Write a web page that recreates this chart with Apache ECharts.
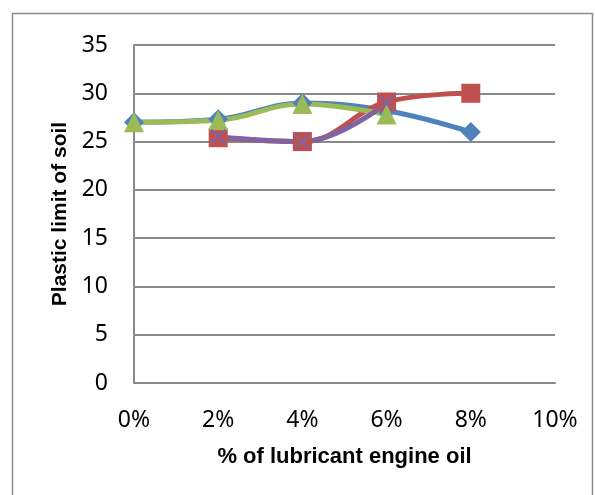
<!DOCTYPE html>
<html>
<head>
<meta charset="utf-8">
<script src="https://cdn.jsdelivr.net/npm/echarts@6/dist/echarts.min.js"></script>
<style>
  html, body { margin: 0; padding: 0; background: #fff; }
  #chart { width: 595px; height: 495px; }
</style>
</head>
<body>
<div id="chart"></div>
<script>
// Oil content (fraction) for each measurement
var oilContent = [0, 0.02, 0.04, 0.06, 0.08];

// Plastic limit readings per series (null = no reading)
var seriesBlue   = [27, 27.3, 29, 28.2, 26];
var seriesRed    = [null, 25.4, 25, 29.1, 30];
var seriesGreen  = [27, 27.2, 28.9, 27.8, null];
var seriesPurple = [null, 25.5, 25, 29, null];

var yTicks = { min: 0, max: 35, interval: 5 };
var xTicks = { min: 0, max: 0.1, interval: 0.02 };

function pairs(values) {
  var out = [];
  for (var i = 0; i < oilContent.length; i++) {
    if (values[i] !== null) out.push([oilContent[i], values[i]]);
  }
  return out;
}

var crossPath = 'path://M0,1 L1,0 L5,4 L9,0 L10,1 L6,5 L10,9 L9,10 L5,6 L1,10 L0,9 L4,5 Z';

function lineSeries(name, values, color, symbol, size) {
  return {
    name: name,
    type: 'line',
    data: pairs(values),
    smooth: 0.4,
    symbol: symbol,
    symbolSize: size,
    lineStyle: { color: color, width: 5 },
    itemStyle: { color: color },
    emphasis: { disabled: true }
  };
}

var tickFont = '"Noto Sans", sans-serif';

var chart = echarts.init(document.getElementById('chart'));
chart.setOption({
  animation: false,
  backgroundColor: '#ffffff',
  graphic: [{
    type: 'rect',
    shape: { x: 12.5, y: 13.5, width: 580, height: 500 },
    style: { fill: 'none', stroke: '#8c8c8c', lineWidth: 1.5 },
    silent: true
  }],
  grid: { left: 134, right: 40, top: 45, bottom: 112 },
  xAxis: {
    type: 'value',
    min: xTicks.min, max: xTicks.max, interval: xTicks.interval,
    name: '% of lubricant engine oil',
    nameLocation: 'middle',
    nameGap: 74,
    nameTextStyle: {
      fontFamily: 'Liberation Sans', fontWeight: 'bold', fontSize: 22,
      color: '#000', verticalAlign: 'middle'
    },
    axisLine: { show: true, lineStyle: { color: '#8a8a8a', width: 2 } },
    axisTick: { show: false },
    splitLine: { show: false },
    axisLabel: {
      margin: 26,
      fontFamily: tickFont, fontSize: 23, color: '#000',
      formatter: function (v) { return Math.round(v * 100) + '%'; }
    }
  },
  yAxis: {
    type: 'value',
    min: yTicks.min, max: yTicks.max, interval: yTicks.interval,
    name: 'Plastic limit of soil',
    nameLocation: 'middle',
    nameGap: 72,
    nameRotate: 90,
    nameTextStyle: {
      fontFamily: 'Liberation Sans', fontWeight: 'bold', fontSize: 21,
      color: '#000', verticalAlign: 'middle'
    },
    axisLine: { show: true, lineStyle: { color: '#8a8a8a', width: 2 } },
    axisTick: { show: false },
    splitLine: { show: true, lineStyle: { color: '#8a8a8a', width: 2 } },
    axisLabel: {
      margin: 26,
      fontFamily: tickFont, fontSize: 23, color: '#000'
    }
  },
  series: [
    lineSeries('Series1', seriesBlue, '#4F81BD', 'diamond', 20),
    lineSeries('Series2', seriesRed, '#C0504D', 'rect', 19),
    lineSeries('Series3', seriesGreen, '#9BBB59', 'triangle', 20),
    lineSeries('Series4', seriesPurple, '#8064A2', crossPath, 16)
  ]
});
</script>
</body>
</html>
